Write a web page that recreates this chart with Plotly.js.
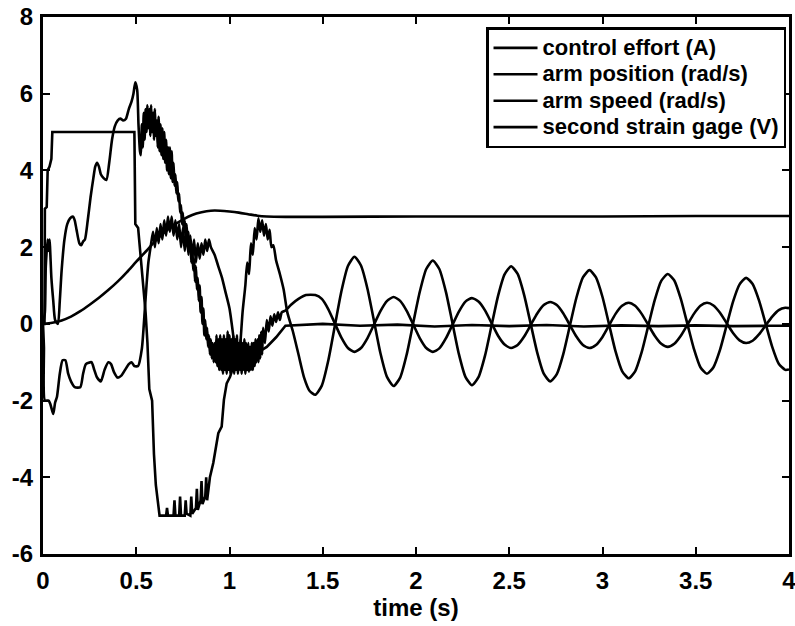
<!DOCTYPE html>
<html>
<head>
<meta charset="utf-8">
<script src="https://cdn.plot.ly/plotly-3.0.1.min.js"></script>
<style>html,body{margin:0;padding:0;background:#fff;}#chart{width:795px;height:626px;}</style>
</head>
<body>
<div id="chart"></div>
<script>
// ---- data ----
const seriesNames = ["control effort (A)", "arm position (rad/s)", "arm speed (rad/s)", "second strain gage (V)"];

const controlT = [0, 0.008, 0.01, 0.02, 0.025, 0.035, 0.045, 0.05, 0.49, 0.495, 0.51, 0.53, 0.55, 0.56, 0.57, 0.585, 0.595, 0.605, 0.615, 0.625, 0.66, 0.665, 0.67, 0.70, 0.705, 0.71, 0.73, 0.735, 0.74, 0.76, 0.765, 0.77, 0.79, 0.795, 0.80, 0.82, 0.825, 0.83, 0.845, 0.85, 0.855, 0.87, 0.875, 0.88, 0.895, 0.913, 0.94, 0.958, 0.97, 0.985, 1.003, 1.02, 1.06, 1.1, 1.15, 1.2, 1.25, 1.3, 1.5, 1.7, 1.9, 2.1, 2.3, 2.5, 2.7, 2.9, 3.1, 3.3, 3.5, 3.7, 3.9, 4.0];
const controlV = [0, 0, 3.0, 3.05, 4.0, 4.1, 4.3, 5.0, 5.0, 2.6, 2.5, 1.5, 0.3, -0.5, -1.7, -2.0, -3.4, -4.2, -4.6, -5.0, -5.0, -4.8, -5.0, -5.0, -4.6, -5.0, -5.0, -4.5, -5.0, -5.0, -4.6, -4.95, -5.0, -4.5, -4.95, -4.8, -4.3, -4.85, -4.6, -4.1, -4.7, -4.5, -4.0, -4.6, -4.0, -3.63, -2.85, -2.68, -1.98, -1.55, -1.38, -1.12, -1.0, -0.95, -0.75, -0.6, -0.35, -0.05, 0.0, -0.05, -0.02, -0.07, -0.03, -0.06, -0.03, -0.07, -0.04, -0.06, -0.04, -0.06, -0.05, -0.05];

const positionT = [0, 0.05, 0.1, 0.15, 0.2, 0.25, 0.3, 0.35, 0.4, 0.45, 0.5, 0.55, 0.6, 0.65, 0.7, 0.75, 0.8, 0.85, 0.9, 0.95, 1.0, 1.05, 1.1, 1.15, 1.2, 1.3, 1.5, 2.0, 2.5, 3.0, 3.5, 4.0];
const positionV = [0, 0.03, 0.09, 0.19, 0.33, 0.5, 0.68, 0.88, 1.1, 1.35, 1.62, 1.88, 2.15, 2.38, 2.57, 2.72, 2.84, 2.91, 2.95, 2.95, 2.93, 2.9, 2.86, 2.82, 2.8, 2.79, 2.79, 2.8, 2.8, 2.8, 2.81, 2.81];

const speedEarlyT = [0, 0.01, 0.015, 0.025, 0.03, 0.035, 0.045, 0.055, 0.065, 0.08, 0.09, 0.1, 0.115, 0.13, 0.145, 0.16, 0.17, 0.18, 0.195, 0.205, 0.215, 0.225, 0.24, 0.255, 0.27, 0.28, 0.29, 0.3, 0.31, 0.325, 0.34, 0.355, 0.37, 0.385, 0.4, 0.415, 0.43, 0.445, 0.46, 0.475, 0.485, 0.495, 0.505, 0.512, 0.52,
  0.525, 0.53, 0.535, 0.54, 0.545, 0.55, 0.555, 0.56, 0.565, 0.57, 0.575, 0.58, 0.585, 0.59, 0.595, 0.6, 0.605, 0.61, 0.615, 0.62, 0.625, 0.63, 0.635, 0.64, 0.645, 0.65, 0.655, 0.66, 0.665, 0.67, 0.675, 0.68, 0.685, 0.69, 0.695, 0.7, 0.705, 0.71, 0.715, 0.72, 0.725, 0.73, 0.735, 0.74, 0.745, 0.75, 0.755, 0.76, 0.765, 0.77, 0.775, 0.78, 0.785, 0.79, 0.795, 0.8, 0.805, 0.81, 0.815, 0.82, 0.825, 0.83, 0.835, 0.84, 0.845, 0.85, 0.855, 0.86, 0.865, 0.87, 0.875, 0.88, 0.885, 0.89, 0.895, 0.9, 0.905, 0.91, 0.915, 0.92,
  0.925, 0.93, 0.935, 0.94, 0.945, 0.95, 0.955, 0.96, 0.965, 0.97, 0.975, 0.98, 0.985, 0.99, 0.995, 1.0, 1.005, 1.01, 1.015, 1.02, 1.025, 1.03, 1.035, 1.04, 1.045, 1.05, 1.055, 1.06, 1.065, 1.07, 1.075, 1.08, 1.085, 1.09, 1.095, 1.1, 1.105, 1.11, 1.115, 1.12, 1.125, 1.13, 1.135, 1.14, 1.145, 1.15, 1.155, 1.16, 1.165, 1.17, 1.175, 1.18, 1.19, 1.2, 1.21, 1.22, 1.23, 1.24, 1.25, 1.26, 1.27, 1.28, 1.3, 1.33, 1.37, 1.41];
const speedEarlyV = [0, 0.3, 1.5, 2.2, 1.9, 2.2, 1.2, 0.6, 0.1, 0.0, 0.6, 1.4, 2.2, 2.6, 2.75, 2.8, 2.7, 2.45, 2.1, 2.05, 2.15, 2.2, 2.7, 3.3, 3.8, 4.1, 4.2, 4.1, 3.9, 3.8, 3.75, 4.2, 4.8, 5.15, 5.3, 5.35, 5.3, 5.35, 5.6, 5.8, 6.0, 6.3, 6.1, 5.2, 4.5,
  4.4, 5.2, 4.6, 5.5, 4.8, 5.6, 5.0, 5.7, 5.1, 5.6, 4.9, 5.7, 5.0, 5.5, 4.8, 5.6, 4.9, 5.3, 4.6, 5.4, 4.5, 5.2, 4.4, 5.1, 4.3, 5.0, 4.2, 4.8, 4.0, 4.6, 3.9, 4.6, 3.8, 4.5, 3.7, 4.2, 3.6, 3.9, 3.4, 3.7, 3.2, 3.4, 2.9, 3.1, 2.6, 2.9, 2.4, 2.7, 2.2, 2.6, 2.1, 2.4, 1.9, 2.2, 1.6, 2.0, 1.4, 1.7, 1.1, 1.5, 0.9, 1.2, 0.6, 1.0, 0.3, 0.7, 0.0, 0.4, -0.3, 0.1, -0.4, -0.1, -0.6, -0.3, -0.8, -0.4, -0.9, -0.5, -1.0, -0.5,
  -1.0, -0.3, -1.1, -0.4, -1.2, -0.3, -1.2, -0.4, -1.3, -0.3, -1.2, -0.4, -1.3, -0.2, -1.2, -0.3, -1.3, -0.4, -1.2, -0.3, -1.3, -0.4, -1.2, -0.3, -1.3, -0.5, -1.2, -0.4, -1.3, -0.5, -1.2, -0.4, -1.3, -0.5, -1.2, -0.5, -1.25, -0.6, -1.2, -0.5, -1.2, -0.5, -1.1, -0.4, -1.0, -0.4, -1.0, -0.3, -0.9, -0.2, -0.8, -0.1, -0.5, 0.1, -0.2, 0.2, -0.05, 0.25, 0.05, 0.3, 0.1, 0.3, 0.35, 0.5, 0.65, 0.75];

const strainEarlyT = [0, 0.005, 0.01, 0.03, 0.04, 0.055, 0.065, 0.075, 0.09, 0.105, 0.12, 0.135, 0.15, 0.17, 0.2, 0.215, 0.23, 0.26, 0.275, 0.29, 0.31, 0.33, 0.35, 0.365, 0.38, 0.4, 0.42, 0.44, 0.46, 0.475, 0.49, 0.51, 0.53, 0.545, 0.555, 0.565, 0.58,
  0.59, 0.6, 0.61, 0.62, 0.63, 0.64, 0.65, 0.66, 0.67, 0.68, 0.69, 0.7, 0.71, 0.72, 0.73, 0.74, 0.75, 0.76, 0.77, 0.78, 0.79, 0.8, 0.81, 0.82, 0.83, 0.84, 0.85, 0.86, 0.87, 0.88, 0.89, 0.9, 0.92, 0.94, 0.96, 0.98, 1.0, 1.02, 1.035, 1.045, 1.055, 1.07, 1.085, 1.095, 1.105, 1.115, 1.125, 1.135, 1.145, 1.155, 1.165, 1.175, 1.185, 1.195, 1.205, 1.215, 1.225, 1.235, 1.25, 1.27, 1.29, 1.31, 1.34, 1.37, 1.4, 1.43];
const strainEarlyV = [0, -0.6, -2.0, -2.0, -2.1, -2.35, -2.05, -1.9, -1.3, -0.95, -0.95, -1.3, -1.5, -1.65, -1.65, -1.3, -1.05, -1.0, -1.2, -1.4, -1.5, -1.2, -1.0, -1.05, -1.25, -1.4, -1.35, -1.2, -1.05, -1.0, -1.1, -1.1, -0.65, 0.3, 1.0, 1.6, 2.1,
  2.4, 2.0, 2.5, 2.1, 2.6, 2.2, 2.7, 2.3, 2.8, 2.4, 2.8, 2.3, 2.7, 2.2, 2.6, 2.0, 2.5, 1.9, 2.4, 1.8, 2.3, 1.7, 2.2, 1.6, 2.1, 1.7, 2.1, 1.8, 2.2, 1.9, 2.2, 2.0, 1.8, 1.5, 1.2, 0.8, 0.4, -0.3, -0.9, -1.0, -0.7, 0.3, 1.0, 1.6, 1.3, 2.1, 1.8, 2.5, 2.2, 2.75, 2.4, 2.7, 2.3, 2.6, 2.2, 2.45, 2.0, 2.05, 1.65, 1.3, 0.9, 0.3, -0.2, -0.8, -1.4, -1.75];

// late, oscillating part (shared time base)
const lateT = [1.46, 1.495, 1.53, 1.565, 1.60, 1.635, 1.67, 1.705, 1.74, 1.775, 1.81, 1.845, 1.88, 1.915, 1.95, 1.985, 2.02, 2.055, 2.09, 2.125, 2.16, 2.195, 2.23, 2.265, 2.30, 2.335, 2.37, 2.405, 2.44, 2.475, 2.51, 2.545, 2.58, 2.615, 2.65, 2.685, 2.72, 2.755, 2.79, 2.825, 2.86, 2.895, 2.93, 2.965, 3.0, 3.035, 3.07, 3.105, 3.14, 3.175, 3.21, 3.245, 3.28, 3.315, 3.35, 3.385, 3.42, 3.455, 3.49, 3.525, 3.56, 3.595, 3.63, 3.665, 3.70, 3.735, 3.77, 3.805, 3.84, 3.875, 3.91, 3.945, 3.98, 4.0];
const speedLateV = [0.75, 0.65, 0.38, 0.01, -0.36, -0.63, -0.73,
  -0.63, -0.37, -0.015, 0.34, 0.60, 0.70,
  0.60, 0.34, -0.015, -0.37, -0.63, -0.73,
  -0.64, -0.38, -0.03, 0.32, 0.58, 0.67,
  0.58, 0.35, 0.02, -0.31, -0.54, -0.63,
  -0.55, -0.33, -0.03, 0.27, 0.49, 0.57,
  0.49, 0.27, -0.03, -0.33, -0.55, -0.63,
  -0.55, -0.34, -0.04, 0.26, 0.47, 0.55,
  0.47, 0.26, -0.025, -0.31, -0.52, -0.60,
  -0.52, -0.31, -0.025, 0.26, 0.47, 0.55,
  0.48, 0.29, 0.025, -0.24, -0.43, -0.50,
  -0.44, -0.27, -0.04, 0.19, 0.36, 0.42,
  0.41];
const strainLateV = [-1.85, -1.61, -0.95, -0.05, 0.85, 1.51, 1.75,
  1.52, 0.91, 0.07, -0.78, -1.39, -1.62,
  -1.40, -0.80, 0.02, 0.83, 1.43, 1.65,
  1.43, 0.84, 0.03, -0.79, -1.38, -1.60,
  -1.39, -0.83, -0.05, 0.73, 1.29, 1.50,
  1.30, 0.75, 0.0, -0.75, -1.30, -1.50,
  -1.31, -0.78, -0.05, 0.68, 1.21, 1.40,
  1.21, 0.70, -0.01, -0.72, -1.23, -1.42,
  -1.24, -0.74, -0.06, 0.62, 1.12, 1.30,
  1.13, 0.65, 0.0, -0.65, -1.13, -1.30,
  -1.13, -0.68, -0.05, 0.58, 1.03, 1.20,
  1.04, 0.60, 0.0, -0.60, -1.04, -1.20,
  -1.19];

const xTicks = [0, 0.5, 1, 1.5, 2, 2.5, 3, 3.5, 4];
const xTickText = ["0", "0.5", "1", "1.5", "2", "2.5", "3", "3.5", "4"];
const yTicks = [-6, -4, -2, 0, 2, 4, 6, 8];
const yTickText = ["-6", "-4", "-2", "0", "2", "4", "6", "8"];

// ---- chart ----
const FONT = "Liberation Sans, Arial, Helvetica, sans-serif";
const lineStyle = {color: "#000", width: 2.6};
// legend entries: tight line pitch, larger drawn text
const legendLabel = s => '<span style="font-size:22px">' + s + '</span>';

const traces = [
  {x: controlT, y: controlV, name: legendLabel(seriesNames[0]), mode: "lines", line: Object.assign({shape: "linear"}, lineStyle)},
  {x: positionT, y: positionV, name: legendLabel(seriesNames[1]), mode: "lines", line: Object.assign({shape: "spline", smoothing: 0.8}, lineStyle)},
  {x: speedEarlyT.concat(lateT), y: speedEarlyV.concat(speedLateV), name: legendLabel(seriesNames[2]), mode: "lines", line: Object.assign({shape: "spline", smoothing: 0.6}, lineStyle)},
  {x: strainEarlyT.concat(lateT), y: strainEarlyV.concat(strainLateV), name: legendLabel(seriesNames[3]), mode: "lines", line: Object.assign({shape: "spline", smoothing: 0.6}, lineStyle)}
];

const axisCommon = {
  showgrid: false, zeroline: false, showline: true, linecolor: "#000", linewidth: 3,
  mirror: "ticks", ticks: "inside", ticklen: 7, tickwidth: 2, tickcolor: "#000",
  ticklabeloverflow: "allow",
  tickfont: {family: FONT, size: 24, color: "#000", weight: "bold"}
};

const layout = {
  width: 795, height: 626,
  margin: {l: 43, r: 6, t: 17, b: 72},
  paper_bgcolor: "#fff", plot_bgcolor: "#fff",
  showlegend: true,
  xaxis: Object.assign({}, axisCommon, {
    range: [0, 4], tickmode: "array", tickvals: xTicks, ticktext: xTickText,
    ticklabelstandoff: 3,
    title: {text: "time (s)", font: {family: FONT, size: 24, color: "#000", weight: "bold"}, standoff: 7}
  }),
  yaxis: Object.assign({}, axisCommon, {
    range: [-6, 8], tickmode: "array", tickvals: yTicks, ticktext: yTickText,
    ticklabelstandoff: 2
  }),
  legend: {
    x: 0.996, xanchor: "right", y: 0.981, yanchor: "top",
    bgcolor: "#fff", bordercolor: "#000", borderwidth: 2.5,
    font: {family: FONT, size: 18, color: "#000", weight: "bold"},
    itemwidth: 44, tracegroupgap: 0
  }
};

Plotly.newPlot("chart", traces, layout, {staticPlot: true, displayModeBar: false});
</script>
</body>
</html>
